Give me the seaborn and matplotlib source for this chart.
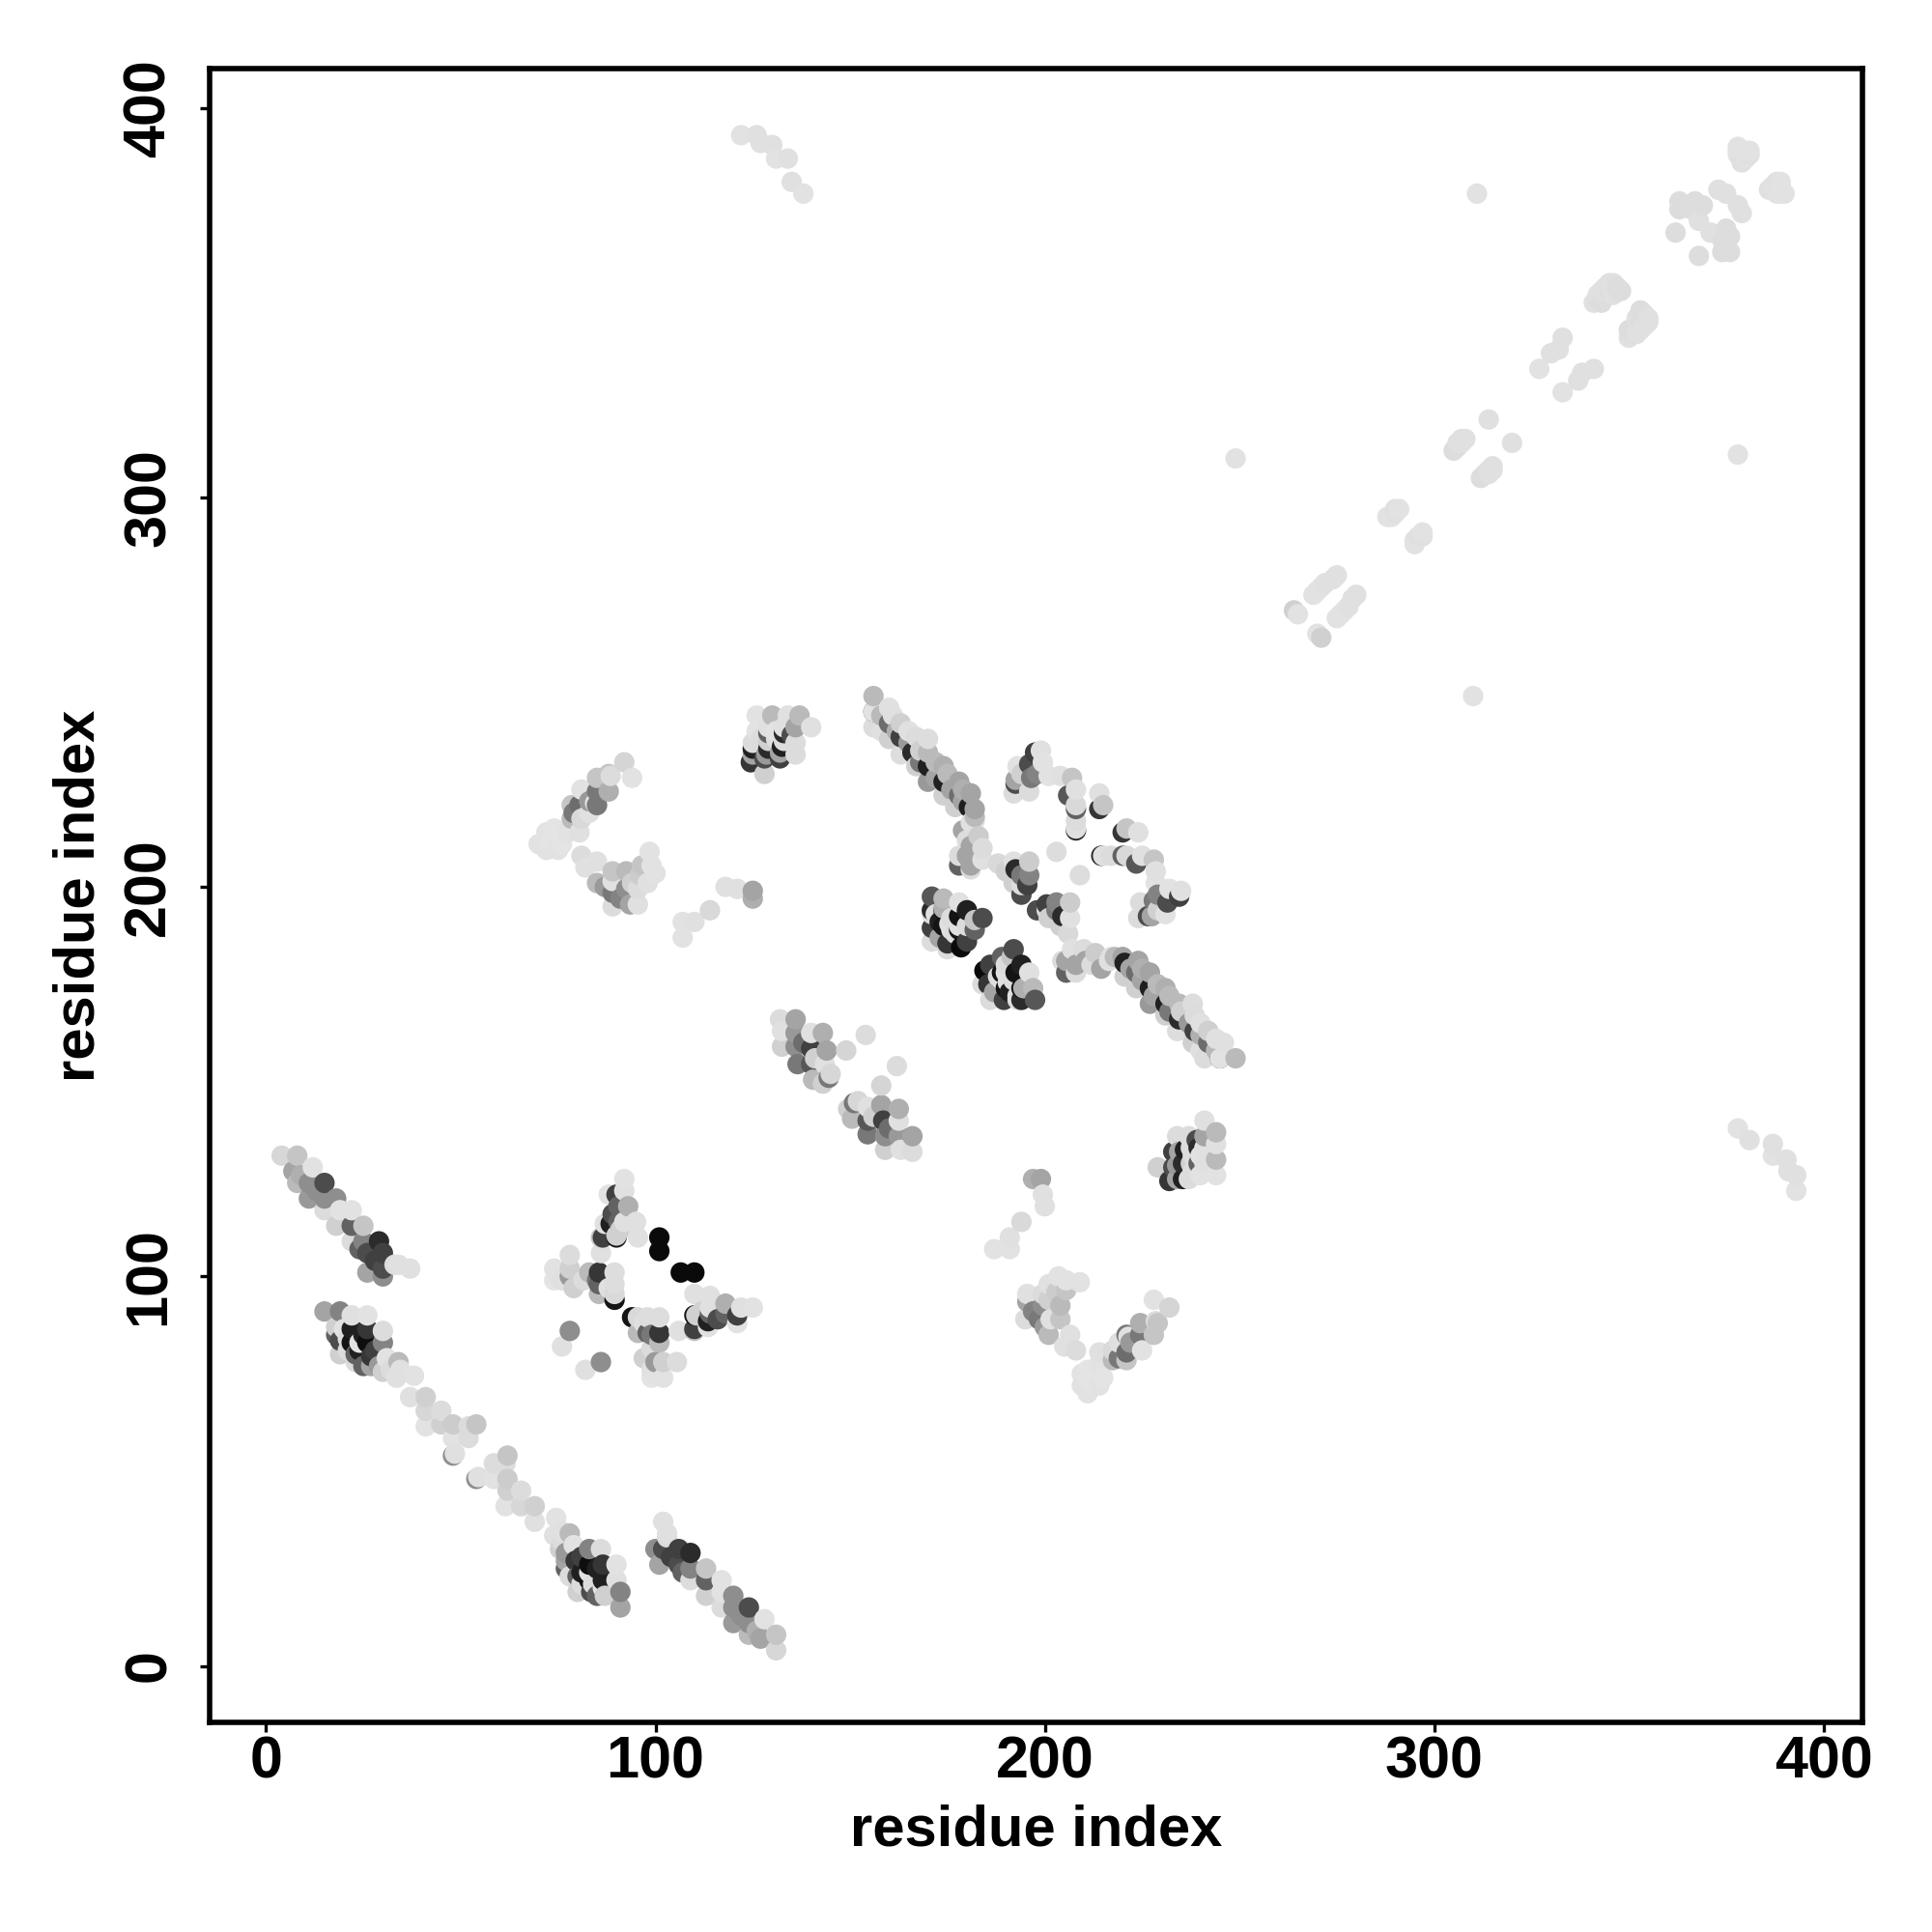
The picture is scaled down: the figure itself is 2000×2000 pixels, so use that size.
import pandas as pd
import matplotlib
matplotlib.use("Agg")
import matplotlib.pyplot as plt
import seaborn as sns
from matplotlib.colors import LinearSegmentedColormap

# contact map, values: residue i, residue j (i < j), score
# the map is symmetric so only one half is listed

# stripe 5-37 / 100-131
a_i = [4, 8, 7, 8, 12, 11, 15, 11, 15, 18, 15, 19, 22, 18, 22, 25, 22, 25, 29, 26, 30, 26, 30, 30, 33, 34, 37, 9, 13, 24, 28]
a_j = [131, 131, 127, 124, 128, 124, 124, 120, 120, 120, 117, 117, 117, 113, 113, 113, 109, 109, 109, 106, 106, 101, 102, 100, 103, 103, 102, 126, 122, 107, 104]
a_s = [.07, .15, .3, .2, .02, .4, .7, .35, .4, .4, .05, .02, .02, .1, .6, .15, .05, .45, .85, .7, .75, .3, .7, .4, .05, .03, .03, .25, .4, .6, .75]

# block 15-38 / 74-91 and the tail down to the diagonal
b_i = [15, 19, 19, 22, 26, 26, 22, 18, 19, 23, 27, 27, 23, 30, 30, 31, 34, 34.5, 30, 33.5, 38, 24, 20, 22, 26,
       37, 41, 41, 45, 41, 45, 48, 54, 52, 48, 48.5, 48, 52, 18, 21, 25, 28, 24, 21, 25, 29, 32]
b_j = [91, 91, 83.5, 83, 83, 86.5, 86.5, 87, 80, 80, 79.5, 77, 78, 83, 86, 79, 78, 76, 75.5, 74, 74.5, 83, 86.5, 90, 90,
       69, 69, 65.5, 65.5, 61.5, 62, 62, 62, 61.5, 54, 54.5, 58.5, 58.5, 85, 84, 85, 81, 81, 81, 77, 77, 76]
b_s = [.3, .45, .7, .95, .98, .8, .9, .1, .1, .6, .8, .3, .05, .45, .05, .02, .2, .03, .1, .03, .02, .02, .02, .03, .02,
       .03, .1, .07, .05, .02, .1, .12, .15, .05, .4, .03, .02, .05, .6, .05, .9, .75, .9, .05, .6, .35, .05]

# star around 100/100
c_i = [92, 92, 88, 90, 93, 90.5, 90.5, 88.5, 95, 92, 87, 86.5, 86, 90, 90, 95.5, 101, 101, 86,
       78, 78, 74, 78, 74, 81.5, 83, 85.5, 85.5, 85.5, 89.5, 89.5, 89.5, 89.5, 78, 76, 75, 76, 79, 89, 91, 85, 88]
c_j = [125, 122, 121, 121, 118, 118, 114, 113.5, 114, 114, 113.5, 110, 110, 110, 110.5, 110, 110, 106.5, 106,
       105.5, 102, 102, 100, 99, 99, 101, 101, 98, 95.5, 101, 98, 94, 95.5, 86, 82, 100, 99, 97, 116, 112, 99, 97]
c_s = [.02, .03, .02, .75, .25, .6, .6, .9, .03, .03, .03, .75, .15, .95, .1, .03, 1, 1, .03,
       .05, .1, .02, .35, .01, .05, .2, .8, .6, .2, .04, .04, .95, .06, .4, .03, .02, .03, .1, .7, .1, .5, .03]

# arc 70-100 / 195-232
d_i = [92, 94, 88, 88.5, 85, 85, 88, 81, 80.5, 85, 84.5, 78.5, 78.5, 81, 74, 80.5, 77.5, 72, 70, 72, 75, 81, 85, 82,
       85, 89, 89, 89, 89, 92.5, 92.5, 93.5, 95.5, 95.5, 96.5, 98.5, 99, 100, 98, 73, 74, 76, 87, 91, 94, 96, 83, 79, 83]
d_j = [232, 228, 229, 228.5, 228, 224.5, 224.5, 225, 221, 221, 221.5, 221, 217.5, 217.5, 215, 214, 214, 214, 211, 209.5, 209.5, 208, 206.5, 205,
       201, 204, 201.5, 198.5, 195, 204, 199.5, 195.5, 195.5, 199.5, 205.5, 209, 205.5, 203.5, 201, 212, 211, 211, 200, 197, 201, 203, 222, 219, 219]
d_s = [.08, .02, .15, .05, .15, .5, .25, .02, .55, .5, .03, .15, .2, .06, .01, .03, .02, .02, .02, .02, .02, .05, .03, .03,
       .2, .15, .03, .5, .05, .2, .4, .3, .03, .05, .15, .02, .02, .02, .03, .01, .01, .01, .35, .45, .1, .12, .35, .5, .03]

# short run 107-125 / 187-200
e_i = [107, 107, 110, 114, 118, 121, 125, 125]
e_j = [191, 187, 191, 194, 200, 199.5, 197, 199]
e_s = [.02, .02, .03, .06, .03, .03, .25, .3]

# block 124-140 / 229-244
f_i = [129, 133, 125, 129, 132.5, 124.5, 128, 132, 126, 130, 134, 137, 136, 136, 136, 140, 128, 126, 131,
       125, 129, 133, 125, 128.5, 132, 129, 133, 127, 131, 135]
f_j = [239.5, 239.5, 235.5, 235.5, 236, 232, 233, 233, 244, 244, 244, 244, 241, 237, 234, 241, 229, 240, 240,
       237, 237.5, 237.5, 234, 234, 234.5, 241, 241, 238, 238, 239]
f_s = [.6, .85, .9, .85, .9, .8, .7, .75, .02, .2, .03, .2, .3, .05, .05, .03, .1, .02, .02,
       .05, .1, .05, .3, .35, .3, .03, .03, .05, .04, .7]

# block 132-154 / 149-166
g_i = [132, 136, 132.5, 136, 132.5, 136, 140, 143, 140, 144, 140, 136.5, 143.5, 140.5, 144.5, 145, 143, 149, 154, 138, 141]
g_j = [166, 166, 163, 162.5, 159, 159, 162.5, 162.5, 158.5, 158, 154.5, 154.5, 154.5, 150.5, 151, 152, 149.5, 158, 162, 160, 156]
g_s = [.05, .3, .03, .35, .1, .4, .03, .25, .75, .3, .65, .5, .03, .2, .5, .07, .1, .08, .05, .55, .1]

# long stripe 155-196 / 201-249
h_i = [156, 156, 156, 156, 160, 160, 160, 163, 163, 163, 167, 170, 166, 170, 167, 170, 174, 170, 174, 178, 174, 178, 181, 177, 180.5, 182, 181,
       179, 182, 183, 181, 184, 178, 178, 181, 184, 181, 188, 192, 192.5, 192, 196, 196, 195.5, 194,
       158, 158, 161, 162, 165, 165, 168, 168, 172, 172, 175, 176, 179, 179, 182, 180, 180, 190, 194, 194]
h_j = [249, 245, 245, 241, 246, 242, 238, 242, 238.5, 234, 238.5, 238, 234.5, 234.5, 231, 231, 231, 227, 227, 227, 223.5, 223.5, 224, 220.5, 220.5, 220, 216.5,
       214.5, 217, 213, 210.5, 210, 208, 205.5, 205.5, 207, 204.5, 206, 206.5, 204.5, 201, 206.5, 203, 200.5, 200.5,
       244, 240, 244, 240, 237, 240, 235, 232, 232, 228, 229, 225, 225, 222, 218, 212, 208, 204, 203, 198]
h_s = [.2, .75, .02, .05, .03, .55, .1, .1, .75, .04, .05, .04, .85, .2, .1, .9, .25, .35, .9, .3, .1, .55, .3, .1, .9, .3, .03,
       .3, .03, .12, .3, .05, .05, .6, .3, .03, .05, .06, .03, .85, .1, .12, .45, .75, .05,
       .2, .03, .03, .25, .35, .03, .1, .5, .2, .3, .2, .3, .25, .3, .2, .05, .3, .1, .5, .7]

# arm 192-215 / 214-235
k_i = [193, 197.5, 199, 199.5, 196, 196.5, 192.5, 192.5, 192, 196, 201, 204, 207, 208, 206, 208, 208, 208, 208, 208, 214, 215, 214, 203, 194, 198]
k_j = [231, 234.5, 235, 232, 231.5, 228, 227.5, 226.5, 224, 224.5, 228.5, 228.5, 228, 225, 223.5, 221, 220, 217, 214.5, 215, 224, 221, 220, 209, 229, 229]
k_s = [.02, .75, .03, .02, .7, .5, .3, .7, .05, .05, .02, .03, .15, .03, .65, .06, .6, .05, .85, .03, .03, .15, .8, .04, .1, .45]

# block 170-184 / 184-198
m_i = [171, 174, 178, 171, 174, 174, 171, 178, 171, 174, 178, 178, 182, 184, 182, 171, 175, 175, 178.5, 175.5,
       172, 176, 177, 180, 173, 176, 180, 173, 180]
m_j = [197.5, 197, 196, 194, 194, 194.5, 193, 192.5, 189.5, 190, 189, 190, 191.5, 192, 189, 186, 185.5, 184, 184.5, 190.5,
       193, 189, 188, 186, 191, 192, 194, 187, 190]
m_s = [.65, .2, .03, .85, .95, .25, .05, .95, .75, .95, .95, .03, .15, .7, .6, .05, .8, .05, 1, .03,
       .03, .03, .05, .75, .9, .05, .9, .3, .05]

# pairs next to the diagonal, 264-390, and the lone ones
n_i = [264, 265, 269, 270, 272, 274, 289, 290, 291, 306, 307, 308, 314, 327, 330, 332, 333, 342, 343, 344, 345, 347, 341,
       362, 363, 363, 367, 369, 373, 375, 368, 378, 380, 381, 379, 379, 378, 249, 311,
       342, 343, 344, 345, 346, 348, 346, 378, 379, 380, 381, 380, 305, 306, 307, 271, 275, 288, 290, 364, 366]
n_j = [271, 270, 275, 276, 278, 279, 295, 296, 297, 313, 314, 315, 320, 333, 337, 338, 341, 352, 350, 353, 355, 354, 350,
       368, 374, 376, 376, 375, 379, 378, 371, 389, 388, 389, 386, 387, 390, 310, 378,
       351, 353, 354, 353, 355, 353, 352, 388, 389, 389, 388, 387, 312, 314, 315, 277, 280, 295, 297, 375, 374]
n_s = [.1, .02, .02, .02, .03, .03, .02, .03, .02, .04, .03, .03, .03, .02, .03, .03, .03, .03, .04, .03, .03, .04, .03,
       .04, .05, .04, .04, .04, .03, .03, .03, .02, .02, .02, .03, .03, .02, .02, .02,
       .04, .03, .03, .04, .03, .04, .03, .02, .02, .02, .03, .02, .04, .03, .03, .02, .03, .02, .03, .05, .04]

# far corner 122-138 / 378-393
p_i = [122, 126, 127, 130, 131, 134, 135, 138]
p_j = [393, 393, 391, 390.5, 387, 387, 381, 378]
p_s = [.02, .03, .03, .03, .02, .03, .03, .02]

res_i = a_i + b_i + c_i + d_i + e_i + f_i + g_i + h_i + k_i + m_i + n_i + p_i
res_j = a_j + b_j + c_j + d_j + e_j + f_j + g_j + h_j + k_j + m_j + n_j + p_j
score = a_s + b_s + c_s + d_s + e_s + f_s + g_s + h_s + k_s + m_s + n_s + p_s

half = pd.DataFrame({'i': res_i, 'j': res_j, 'score': score})
other = half.rename(columns={'i': 'j', 'j': 'i'})
df = pd.concat([half, other], ignore_index=True)
# dots were plotted residue by residue, later ones cover the earlier ones
df = df.sort_values(['i', 'j'], kind='stable')

sns.set_theme(style='white')
plt.rcParams['font.family'] = ['Liberation Sans', 'DejaVu Sans']
plt.rcParams['font.weight'] = 'bold'

greys = LinearSegmentedColormap.from_list('contact', ['#e6e6e6', '#0a0a0a'])

fig = plt.figure(figsize=(10, 10), dpi=200)
ax = fig.add_axes([0.1085, 0.1085, 0.8555, 0.8558])

sns.scatterplot(data=df, x='i', y='j', hue='score', hue_norm=(0, 1), palette=greys,
                s=58, linewidth=0, legend=False, ax=ax)

ax.set_xlim(-14.5, 410)
ax.set_ylim(-14.5, 410)
ax.set_xticks([0, 100, 200, 300, 400])
ax.set_yticks([0, 100, 200, 300, 400])
ax.tick_params(axis='both', which='major', direction='out', length=3.5, width=1.2,
               color='black', labelcolor='black', labelsize=22, bottom=True, left=True)
ax.tick_params(axis='x', pad=1.5)
ax.tick_params(axis='y', pad=8.5)
for t in ax.get_yticklabels():
    t.set_rotation(90)
    t.set_va('center')

ax.set_xlabel('residue index', fontsize=21.5, fontweight='bold', color='black', labelpad=5)
ax.set_ylabel('residue index', fontsize=21.5, fontweight='bold', color='black', labelpad=6)

for spine in ax.spines.values():
    spine.set_visible(True)
    spine.set_color('black')
    spine.set_linewidth(2.0)

fig.savefig('out.png', dpi=200)
